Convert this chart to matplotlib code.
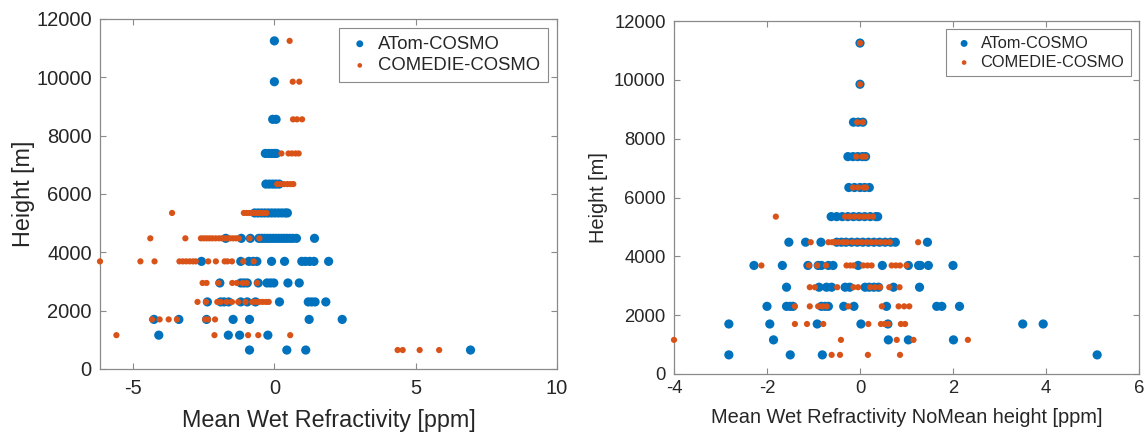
import numpy as np
import matplotlib
matplotlib.use("Agg")
import matplotlib.pyplot as plt

plt.rcParams["font.family"] = ["Liberation Sans", "DejaVu Sans"]

BLUE = "#0072BD"; ORANGE = "#D95319"; AX = "#8a8a8a"; INK = "#262626"

# height levels [m]
H = [650, 1160, 1700, 2300, 2950, 3690, 4480, 5350, 6340, 7390, 8560, 9850, 11250]

# left panel: mean wet refractivity [ppm], one list per height level
atom_l = {
    650: [-0.88, 0.44, 1.11, 6.94],
    1160: [-4.09, -1.63, -1.23, -0.23],
    1700: [-4.26, -3.38, -2.4, -1.46, -0.88, 1.23, 2.4],
    2300: [-2.37, -1.9, -1.78, -1.62, -1.19, -0.96, -0.67, 0.18, 1.2, 1.32, 1.44, 1.82],
    2950: [-1.93, -1.19, -1.08, -0.96, -0.57, -0.26, -0.14, -0.02, 0.48, 0.88],
    3690: [-2.58, -1.19, -0.9, -0.75, -0.62, -0.1, 0.36, 0.97, 1.1, 1.25, 1.4, 1.92],
    4480: [-1.72, -1.17, -0.85, -0.55, -0.45, -0.35, -0.25, -0.15, -0.05, 0.05, 0.15,
           0.25, 0.35, 0.45, 0.55, 0.65, 0.78, 1.42],
    5350: [-0.7, -0.58, -0.46, -0.34, -0.22, -0.1, 0.02, 0.14, 0.26, 0.38, 0.46],
    6340: [-0.3, -0.18, -0.06, 0.05, 0.17],
    7390: [-0.32, -0.2, -0.1, 0.0, 0.07],
    8560: [-0.06, 0.06],
    9850: [0.0],
    11250: [0.0],
}
comedie_l = {
    650: [4.36, 4.54, 5.14, 5.83],
    1160: [-5.59, -2.12, -0.93, -0.57, 0.56],
    1700: [-4.33, -4.06, -3.74, -3.45, -2.45, -2.35, -2.1],
    2300: [-2.72, -2.42, -2.02, -1.9, -1.69, -1.5, -1.28, -1.02, -0.78, -0.66, -0.54,
           -0.42, -0.3, -0.2],
    2950: [-2.54, -2.4, -1.98, -1.49, -1.33, -1.12, -0.98, -0.61],
    3690: [-6.17, -4.74, -4.24, -3.36, -3.24, -3.12, -3.0, -2.88, -2.78, -2.34, -2.07,
           -1.76, -1.66, -1.5, -1.1, -0.73],
    4480: [-4.39, -3.15, -2.6, -2.5, -2.4, -2.3, -2.2, -2.08, -1.96, -1.86, -1.76, -1.66,
           -1.56, -1.46, -1.36, -1.26, -0.88, -0.53],
    5350: [-3.62, -1.08, -0.98, -0.88, -0.78, -0.68, -0.58, -0.48, -0.38, -0.28],
    6340: [0.1, 0.22, 0.34, 0.46, 0.57, 0.67],
    7390: [0.25, 0.5, 0.62, 0.75, 0.86],
    8560: [0.66, 0.8, 0.98],
    9850: [0.65, 0.88],
    11250: [0.54],
}

# right panel: mean wet refractivity with mean over height removed [ppm]
atom_r = {
    650: [-2.82, -1.5, -0.81, 5.1],
    1160: [-1.86, 0.61, 1.04, 2.01],
    1700: [-2.82, -1.94, -0.92, 0.02, 0.6, 3.5, 3.94],
    2300: [-2.0, -1.58, -1.5, -1.44, -0.83, -0.75, -0.68, -0.35, -0.13, 0.57, 1.65, 1.76, 2.14],
    2950: [-1.58, -0.88, -0.72, -0.61, -0.32, -0.22, 0.11, 0.2, 0.3, 0.4, 0.72, 1.28],
    3690: [-2.28, -1.67, -1.12, -0.9, -0.83, -0.68, -0.58, -0.04, 0.48, 1.04, 1.26, 1.3,
           1.47, 2.0],
    4480: [-1.53, -1.17, -0.84, -0.5, -0.4, -0.3, -0.18, -0.06, 0.06, 0.18, 0.3, 0.42,
           0.54, 0.66, 0.76, 1.45],
    5350: [-0.62, -0.5, -0.38, -0.26, -0.14, -0.02, 0.1, 0.22, 0.34, 0.38],
    6340: [-0.24, -0.12, 0.0, 0.1, 0.2],
    7390: [-0.26, -0.15, -0.05, 0.05, 0.12],
    8560: [-0.14, -0.04, 0.06],
    9850: [0.0],
    11250: [0.0],
}
comedie_r = {
    650: [-0.61, -0.43, 0.17, 0.86],
    1160: [-4.0, -0.41, 0.79, 1.15, 2.32],
    1700: [-1.4, -1.14, -0.79, 0.18, 0.45, 0.53, 0.61, 0.88, 0.97],
    2300: [-1.4, -1.08, -0.9, -0.81, -0.72, -0.25, 0.47, 0.83, 0.95, 1.06],
    2950: [-1.08, -0.97, -0.49, -0.14, -0.04, 0.22, 0.32, 0.43, 0.63, 0.85],
    3690: [-2.12, -1.1, -0.92, -0.73, -0.29, -0.21, -0.14, 0.07, 0.16, 0.25, 0.68, 0.77,
           0.86, 1.0],
    4480: [-1.06, -0.68, -0.6, -0.54, -0.46, -0.36, -0.28, -0.16, -0.06, 0.04, 0.14, 0.24,
           0.34, 0.44, 0.54, 0.64, 1.25],
    5350: [-1.81, -0.32, -0.22, -0.12, -0.02, 0.08, 0.18, 0.28],
    6340: [-0.15, -0.04, 0.08, 0.13],
    7390: [-0.08, 0.05, 0.12],
    8560: [-0.06, 0.06],
    9850: [0.0],
    11250: [0.0],
}


def flat(d):
    xs, ys = [], []
    for h in H:
        xs += d[h]
        ys += [h] * len(d[h])
    return np.array(xs), np.array(ys)


fig = plt.figure(figsize=(11.44, 4.32), dpi=100)
ax1 = fig.add_axes([100 / 1144, 63 / 432, 457 / 1144, 350 / 432])
ax2 = fig.add_axes([674 / 1144, 58 / 432, 465 / 1144, 353 / 432])

panels = [
    (ax1, atom_l, comedie_l, (-6.17, 10), [-5, 0, 5, 10],
     "Mean Wet Refractivity [ppm]", 14.5, 16.8, 13.3, 7, 1),
    (ax2, atom_r, comedie_r, (-4, 6), [-4, -2, 0, 2, 4, 6],
     "Mean Wet Refractivity NoMean height [ppm]", 13.3, 14.4, 11.8, 4, 4),
]
for ax, a, c, xl, xt, xlab, tfs, lfs, gfs, xpad, ypad in panels:
    xa, ya = flat(a)
    xc, yc = flat(c)
    ax.scatter(xa, ya, s=44, color=BLUE, edgecolors="none", label="ATom-COSMO",
               clip_on=False, zorder=3)
    ax.scatter(xc, yc, s=20, color=ORANGE, edgecolors="none", label="COMEDIE-COSMO",
               clip_on=False, zorder=4)
    ax.set_xlim(*xl)
    ax.set_ylim(0, 12000)
    ax.set_xticks(xt)
    ax.set_xticklabels([str(v) for v in xt])
    ax.set_yticks(range(0, 12001, 2000))
    ax.tick_params(direction="in", length=4, width=0.8, color=AX, labelcolor=INK,
                   labelsize=tfs, top=True, right=True)
    ax.tick_params(axis="x", pad=xpad)
    ax.tick_params(axis="y", pad=6)
    for sp in ax.spines.values():
        sp.set_color(AX)
        sp.set_linewidth(0.9)
    ax.set_xlabel(xlab, fontsize=lfs, color=INK, labelpad=8)
    ax.set_ylabel("Height [m]", fontsize=lfs, color=INK, labelpad=ypad)
    leg = ax.legend(loc="upper right", fontsize=gfs, fancybox=False, framealpha=1,
                    edgecolor=AX, markerscale=0.75, handletextpad=0.3,
                    borderaxespad=0.5, labelspacing=0.25, handlelength=1.4)
    leg.get_frame().set_linewidth(0.8)
    for t in leg.get_texts():
        t.set_color(INK)

fig.savefig("out.png", dpi=100)
